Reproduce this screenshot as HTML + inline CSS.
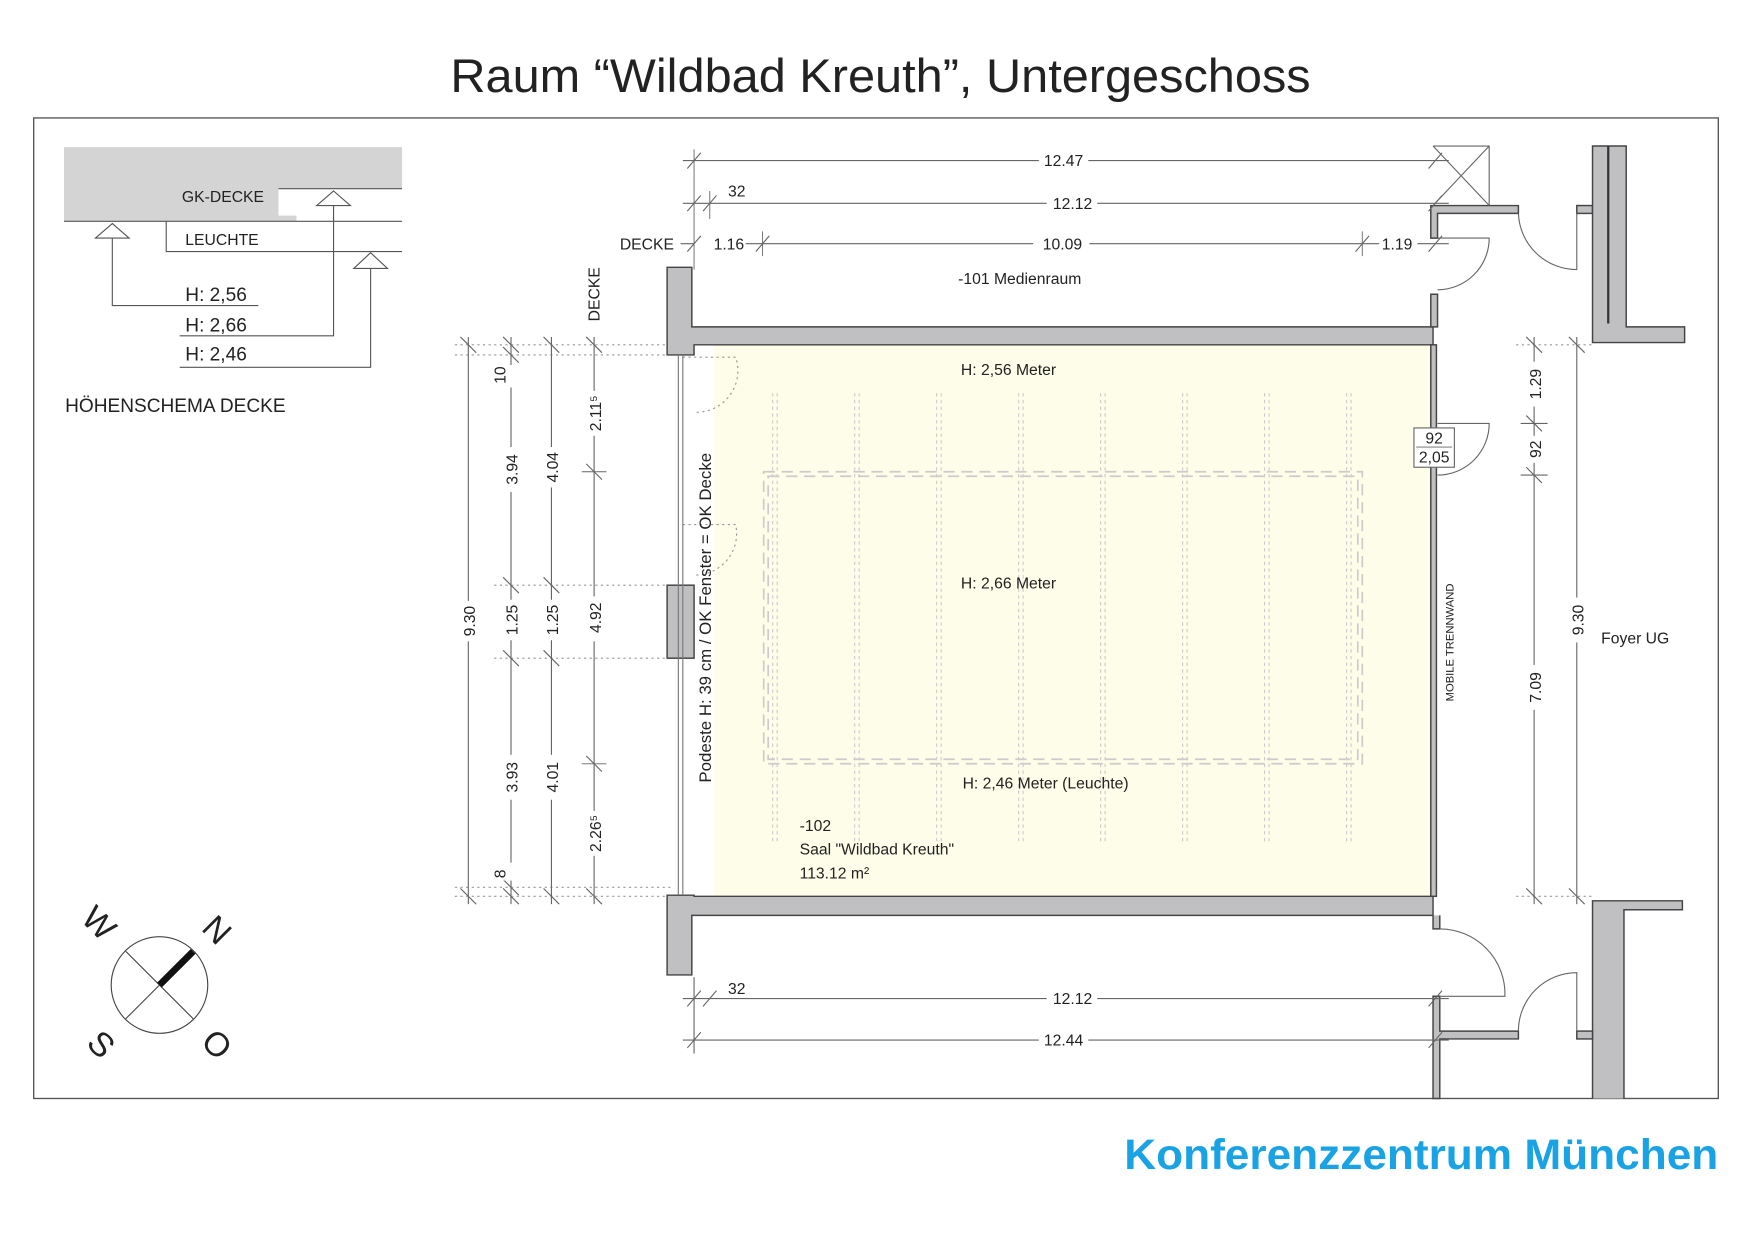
<!DOCTYPE html>
<html><head><meta charset="utf-8"><style>
html,body{margin:0;padding:0;background:#fff;}
svg{display:block;}
text{font-family:"Liberation Sans",sans-serif;fill:#222;}
</style></head><body>
<svg width="1752" height="1240" viewBox="0 0 1560 1104" preserveAspectRatio="none" xmlns="http://www.w3.org/2000/svg">
<!-- title -->
<text x="401" y="82" font-size="42" textLength="766" lengthAdjust="spacingAndGlyphs" fill="#111">Raum “Wildbad Kreuth”, Untergeschoss</text>
<rect x="30" y="105" width="1500" height="873" fill="none" stroke="#555" stroke-width="1.2"/>
<text x="1001" y="1041" font-size="38" font-weight="bold" textLength="529" lengthAdjust="spacingAndGlyphs" style="fill:#1aa3e4">Konferenzzentrum München</text>

<!-- legend -->
<path d="M57,131 H358 V168 H248 V192 H264 V197 H57 Z" fill="#d4d4d4"/>
<g stroke="#555" stroke-width="1" fill="none">
<path d="M248,168 H358 M57,197 H358 M148,197 V224 H358"/>
<path d="M100,199 L85,212 H115 Z M297,170 L282,183 H312 Z M330,225 L315,239 H345 Z" fill="#fff"/>
<path d="M100,212 V272 H230 M297,183 V299 H160 M330,239 V327 H160"/>
</g>
<text x="162" y="180" font-size="14">GK-DECKE</text>
<text x="165" y="218" font-size="14">LEUCHTE</text>
<text x="165" y="268" font-size="17">H: 2,56</text>
<text x="165" y="295" font-size="17">H: 2,66</text>
<text x="165" y="321" font-size="17">H: 2,46</text>
<text x="58" y="367" font-size="17">HÖHENSCHEMA DECKE</text>

<!-- compass -->
<circle cx="142" cy="877" r="43" fill="none" stroke="#444" stroke-width="1"/>
<path d="M112,847 L172,907 M112,907 L172,847" stroke="#444" stroke-width="1"/>
<path d="M142,877 L172,847" stroke="#111" stroke-width="6"/>
<text x="88" y="832" font-size="30" text-anchor="middle" transform="rotate(45 88 822)">W</text>
<text x="193" y="838" font-size="30" text-anchor="middle" transform="rotate(45 193 828)">N</text>
<text x="90" y="940" font-size="30" text-anchor="middle" transform="rotate(45 90 930)">S</text>
<text x="193" y="940" font-size="30" text-anchor="middle" transform="rotate(45 193 930)">O</text>

<!-- room -->
<rect x="636" y="307" width="640" height="491" fill="#fdfde9"/>
<g stroke="#ccc" stroke-width="1" stroke-dasharray="3,3" fill="none">
<path d="M688,350 V752 M692,350 V752 M761,350 V752 M765,350 V752 M834,350 V752 M838,350 V752 M907,350 V752 M911,350 V752 M980,350 V752 M984,350 V752 M1053,350 V752 M1057,350 V752 M1126,350 V752 M1130,350 V752 M1199,350 V752 M1203,350 V752"/>
</g>
<g stroke="#ccc" stroke-width="1.5" stroke-dasharray="10,6" fill="none">
<rect x="680" y="420" width="533" height="260"/>
<rect x="684" y="424" width="525" height="252"/>
</g>
<g stroke="#999" stroke-width="1" stroke-dasharray="2,3" fill="none">
<path d="M608,318 H655 A37,37 0 0 1 618,367"/>
<path d="M608,467 H655 A37,37 0 0 1 618,512"/>
<path d="M405,307 H600 M405,316 H600 M405,798 H600 M405,790 H600 M440,521 H600 M440,586 H600 M1350,307 H1420 M1350,798 H1420"/>
</g>

<!-- walls -->
<g fill="#c0c0c2" stroke="#444" stroke-width="1.3">
<path d="M594,238 H616 V291 H1276 V307 H618 V316 H594 Z"/>
<path d="M594,868 H616 V815 H1276 V798 H618 V797 H594 Z"/>
<rect x="594" y="521" width="24" height="65"/>
<rect x="1274" y="307" width="5" height="491"/>
<path d="M1274,262 H1280 V291 H1274 Z"/>
<path d="M1274,183 H1352 V190 H1280 V212 H1274 Z"/>
<rect x="1404" y="183" width="14" height="7"/>
<path d="M1418,130 H1448 V291 H1500 V305 H1418 Z"/>
<path d="M1418,978 V802 H1498 V810 H1446 V978"/>
<path d="M1276,815 V827 H1282 V815 M1276,887 H1282 V918 H1352 V925 H1282 V978 H1276 Z"/>
<rect x="1404" y="918" width="14" height="7"/>
</g>
<path d="M1432,130 V288" stroke="#333" stroke-width="2"/>
<path d="M604,316 V797 M608,316 V797" stroke="#777" stroke-width="1"/>
<path d="M1276,130 H1326 V183 M1276,130 L1326,183 M1326,130 L1276,183" stroke="#666" stroke-width="1" fill="none"/>
<!-- doors -->
<g stroke="#666" stroke-width="1" fill="none">
<path d="M1280,212 H1326 A46,46 0 0 1 1280,258"/>
<path d="M1352,190 A52,52 0 0 0 1404,240 V190"/>
<path d="M1280,377 H1326 A46,46 0 0 1 1280,423"/>
<path d="M1282,827 A58,58 0 0 1 1340,887 H1282"/>
<path d="M1352,918 A52,52 0 0 1 1404,866 V918"/>
</g>

<!-- top dims -->
<g stroke="#666" stroke-width="1">
<path d="M608,143 H925 M969,143 H1290 M608,181 H932 M977,181 H1290 M606,217 H618 M664,217 H920 M970,217 H1228 M1262,217 H1290"/>
<path d="M612,150 L624,136 M1272,150 L1284,136 M612,188 L624,174 M626,188 L638,174 M1272,188 L1284,174 M612,224 L624,210 M673,224 L685,210 M1207,224 L1219,210 M1272,224 L1284,210"/>
<path d="M618,133 V240 M632,170 V195 M679,206 V228 M1213,206 V228" stroke-width="0.8"/>
<path d="M608,889 H932 M977,889 H1290 M608,926 H925 M969,926 H1290"/>
<path d="M612,896 L624,882 M626,896 L638,882 M1272,896 L1284,882 M612,933 L624,919 M1272,933 L1284,919 M618,870 V938"/>
</g>
<g font-size="14" text-anchor="middle">
<text x="947" y="148">12.47</text>
<text x="955" y="186">12.12</text>
<text x="656" y="175">32</text>
<text x="576" y="222">DECKE</text>
<text x="649" y="222">1.16</text>
<text x="946" y="222">10.09</text>
<text x="1244" y="222">1.19</text>
<text x="908" y="253">-101 Medienraum</text>
<text x="955" y="894">12.12</text>
<text x="656" y="885">32</text>
<text x="947" y="931">12.44</text>
</g>

<!-- left dims -->
<g stroke="#666" stroke-width="1">
<path d="M417,300 V805 M455,300 V805 M491,300 V805 M529,300 V805"/>
<path d="M410,300 L424,314 M448,300 L462,314 M448,309 L462,323 M484,300 L498,314 M522,300 L536,314
M448,514 L462,528 M484,514 L498,528 M448,579 L462,593 M484,579 L498,593
M522,413 L536,427 M522,673 L536,687
M410,791 L424,805 M448,783 L462,797 M448,791 L462,805 M484,791 L498,805 M522,791 L536,805"/>
<path d="M518,420 H540 M518,680 H540" stroke-width="0.8"/>
</g>
<g fill="#fff"><rect x="410" y="535" width="14" height="36"/><rect x="448" y="325" width="14" height="20"/><rect x="448" y="398" width="14" height="40"/><rect x="448" y="534" width="14" height="36"/><rect x="448" y="672" width="14" height="40"/><rect x="448" y="768" width="14" height="16"/><rect x="484" y="398" width="14" height="36"/><rect x="484" y="534" width="14" height="36"/><rect x="484" y="672" width="14" height="40"/><rect x="522" y="348" width="14" height="40"/><rect x="522" y="531" width="14" height="40"/><rect x="522" y="722" width="14" height="40"/></g>
<g font-size="14" text-anchor="middle">
<text transform="translate(423,553) rotate(-90)">9.30</text>
<text transform="translate(450,334) rotate(-90)">10</text>
<text transform="translate(461,418) rotate(-90)">3.94</text>
<text transform="translate(461,552) rotate(-90)">1.25</text>
<text transform="translate(461,692) rotate(-90)">3.93</text>
<text transform="translate(450,778) rotate(-90)">8</text>
<text transform="translate(497,416) rotate(-90)">4.04</text>
<text transform="translate(497,552) rotate(-90)">1.25</text>
<text transform="translate(497,692) rotate(-90)">4.01</text>
<text transform="translate(535,368) rotate(-90)">2.11⁵</text>
<text transform="translate(535,550) rotate(-90)">4.92</text>
<text transform="translate(535,742) rotate(-90)">2.26⁵</text>
<text transform="translate(534,262) rotate(-90)">DECKE</text>
<text transform="translate(633,550) rotate(-90)" font-size="15">Podeste H: 39 cm / OK Fenster = OK Decke</text>
</g>

<!-- right dims -->
<g stroke="#666" stroke-width="1">
<path d="M1366,300 V805 M1404,300 V805"/>
<path d="M1359,300 L1373,314 M1397,300 L1411,314 M1359,370 L1373,384 M1359,416 L1373,430 M1359,791 L1373,805 M1397,791 L1411,805 M1354,377 H1378 M1354,423 H1378"/>
</g>
<g fill="#fff"><rect x="1359" y="322" width="14" height="40"/><rect x="1359" y="388" width="14" height="24"/><rect x="1359" y="592" width="14" height="40"/><rect x="1397" y="532" width="14" height="40"/></g>
<g font-size="14" text-anchor="middle">
<text transform="translate(1372,342) rotate(-90)">1.29</text>
<text transform="translate(1372,400) rotate(-90)">92</text>
<text transform="translate(1372,612) rotate(-90)">7.09</text>
<text transform="translate(1410,552) rotate(-90)">9.30</text>
<text x="1456" y="573">Foyer UG</text>
<text transform="translate(1294,572) rotate(-90)" font-size="10">MOBILE TRENNWAND</text>
</g>
<rect x="1259" y="381" width="36" height="35" fill="#fff" stroke="#666" stroke-width="1"/>
<path d="M1261,398 H1293" stroke="#666" stroke-width="0.8"/>
<text x="1277" y="395" font-size="14" text-anchor="middle">92</text>
<text x="1277" y="412" font-size="14" text-anchor="middle">2,05</text>

<!-- room labels -->
<g font-size="14">
<text x="898" y="334" text-anchor="middle">H: 2,56 Meter</text>
<text x="898" y="524" text-anchor="middle">H: 2,66 Meter</text>
<text x="931" y="702" text-anchor="middle">H: 2,46 Meter (Leuchte)</text>
<text x="712" y="740">-102</text>
<text x="712" y="761">Saal "Wildbad Kreuth"</text>
<text x="712" y="782">113.12 m²</text>
</g>
</svg>
</body></html>
